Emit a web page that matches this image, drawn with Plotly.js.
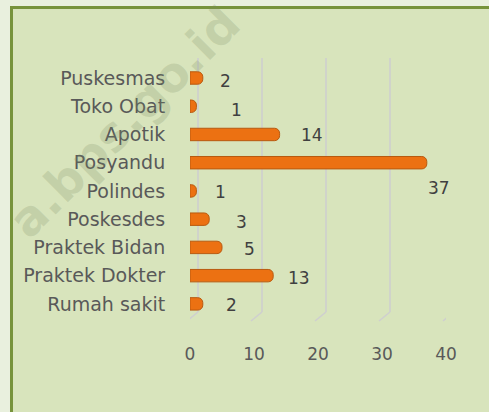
<!DOCTYPE html>
<html>
<head>
<meta charset="utf-8">
<script src="https://cdn.plot.ly/plotly-3.0.1.min.js"></script>
<style>
html,body{margin:0;padding:0;background:#e9f0de;}
#chart{width:489px;height:412px;}
</style>
</head>
<body>
<div id="chart"></div>
<script>
// Data (display order top -> bottom)
const categories = ["Puskesmas","Toko Obat","Apotik","Posyandu","Polindes","Poskesdes","Praktek Bidan","Praktek Dokter","Rumah sakit"];
const values = [2,1,14,37,1,3,5,13,2];
const tickValues = [0,10,20,30,40];
const tickLabels = ["0","10","20","30","40"];

// label placement (layout only)
const labelXShift = [23,40,32,12,24,32,27,26,29];
const labelYShift = [-3,-4,-1,-25,-1,-3,-2,-2,-1];

const fontFam = "'DejaVu Sans', 'Open Sans', sans-serif";
const textCol = "#595959";

const trace = {
  type: "bar",
  orientation: "h",
  x: values,
  y: categories,
  width: 0.44,
  marker: {color: "#ec7112", line: {color: "#b85a10", width: 1}, cornerradius: 5},
  hoverinfo: "none"
};

// plot area in pixels: x 190..446, y 63..318
const PL = 190, PW = 256, PT = 63, PH = 255;
const px = p => (p - PL) / PW;
const py = p => (PT + PH - p) / PH;

const annotations = [];
annotations.push({
  xref: "paper", yref: "paper", x: px(124), y: py(122), xanchor: "center", yanchor: "middle",
  text: "a.bps.go.id", showarrow: false, textangle: -45,
  font: {family: "'DejaVu Sans', sans-serif", size: 48, color: "rgba(120,140,100,0.22)", weight: "bold"}
});
values.forEach((v,i)=>annotations.push({
  x: v, y: categories[i], xref: "x", yref: "y",
  text: String(v), showarrow: false, xanchor: "center", yanchor: "middle",
  xshift: labelXShift[i], yshift: labelYShift[i],
  font: {family: fontFam, size: 17, color: "#404040"}
}));

const shapes = [];
// outer light strips + green frame (left/top)
shapes.push({type:"rect", xref:"paper", yref:"paper", x0:px(-5), x1:px(11), y0:py(420), y1:py(-5),
  fillcolor:"#e9f0de", line:{width:0}, layer:"below"});
shapes.push({type:"rect", xref:"paper", yref:"paper", x0:px(-5), x1:px(495), y0:py(7), y1:py(-5),
  fillcolor:"#e9f0de", line:{width:0}, layer:"below"});
shapes.push({type:"line", xref:"paper", yref:"paper", x0:px(11.5), x1:px(11.5), y0:py(420), y1:py(6),
  line:{color:"#77933c", width:3}, layer:"below"});
shapes.push({type:"line", xref:"paper", yref:"paper", x0:px(10), x1:px(495), y0:py(7.5), y1:py(7.5),
  line:{color:"#77933c", width:3}, layer:"below"});
// 3D-style gridlines
tickValues.forEach(v=>{
  shapes.push({type:"line", xref:"x", yref:"paper", xsizemode:"pixel", xanchor:v, x0:8, x1:8, y0:py(312), y1:py(58),
    line:{color:"#cfcfcf", width:1.6}, layer:"below"});
  shapes.push({type:"line", xref:"x", yref:"paper", xsizemode:"pixel", ysizemode:"pixel", xanchor:v, yanchor:py(312), x0:8, x1:-3, y0:0, y1:-9,
    line:{color:"#cfcfcf", width:1.6}, layer:"below"});
});
shapes.push({type:"line", xref:"x", yref:"paper", xsizemode:"pixel", xanchor:0, x0:-2, x1:-2, y0:py(321), y1:py(62),
  line:{color:"#cfcfcf", width:1.6}, layer:"below"});

const layout = {
  width: 489, height: 412,
  paper_bgcolor: "#d8e4bc",
  plot_bgcolor: "rgba(0,0,0,0)",
  margin: {l:PL, r:489-PL-PW, t:PT, b:412-PT-PH},
  showlegend: false,
  xaxis: {
    range: [0,40], tickvals: tickValues, ticktext: tickLabels,
    showgrid: false, zeroline: false, showline: false,
    ticks: "outside", ticklen: 21, tickcolor: "rgba(0,0,0,0)",
    tickfont: {family: fontFam, size: 17, color: textCol},
    fixedrange: true
  },
  yaxis: {
    autorange: "reversed", type: "category",
    showgrid: false, zeroline: false, showline: false,
    ticks: "outside", ticklen: 20, tickcolor: "rgba(0,0,0,0)",
    tickfont: {family: fontFam, size: 19, color: textCol},
    fixedrange: true
  },
  annotations: annotations,
  shapes: shapes
};

Plotly.newPlot("chart", [trace], layout, {displayModeBar:false, staticPlot:true});
</script>
</body>
</html>
